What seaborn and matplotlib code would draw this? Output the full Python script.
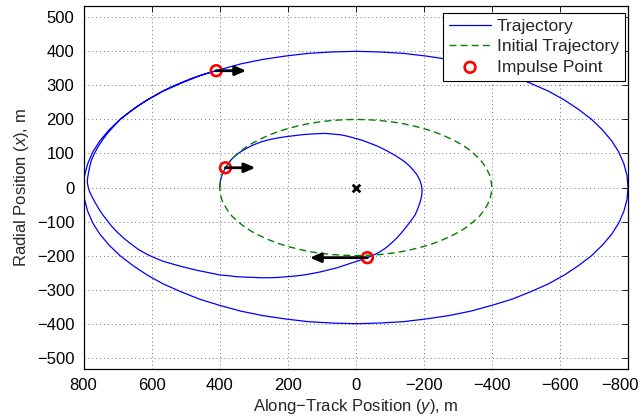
import matplotlib
matplotlib.use('Agg')
import matplotlib.pyplot as plt
from matplotlib.transforms import ScaledTranslation
import seaborn as sns
import pandas as pd

# initial trajectory: along-track (y) and radial (x) positions, m
init_y = [400, 398, 394, 386, 376, 363, 346, 328, 306, 283, 257, 229, 200, 169, 137, 104, 69, 35, 0,
          -35, -69, -104, -137, -169, -200, -229, -257, -283, -306, -328, -346, -363, -376, -386, -394, -398, -400,
          -398, -394, -386, -376, -363, -346, -328, -306, -283, -257, -229, -200, -169, -137, -104, -69, -35, 0,
          35, 69, 104, 137, 169, 200, 229, 257, 283, 306, 328, 346, 363, 376, 386, 394, 398, 400]
init_x = [0, 17, 35, 52, 68, 85, 100, 115, 129, 141, 153, 164, 173, 181, 188, 193, 197, 199, 200,
          199, 197, 193, 188, 181, 173, 164, 153, 141, 129, 115, 100, 85, 68, 52, 35, 17, 0,
          -17, -35, -52, -68, -85, -100, -115, -129, -141, -153, -164, -173, -181, -188, -193, -197, -199, -200,
          -199, -197, -193, -188, -181, -173, -164, -153, -141, -129, -115, -100, -85, -68, -52, -35, -17, 0]

# trajectory, piece by piece
coast_y = [400, 398, 394, 386, 383]
coast_x = [0, 17, 35, 52, 58]

loop1_y = [372, 360, 346, 330, 306, 281, 257, 232, 207, 183, 158, 134, 112, 90, 68,
           46, 26, 7, -18, -42, -67, -91, -116, -139, -156, -169, -180, -188, -193,
           -195, -193, -188, -182, -174, -162, -149, -135, -120, -104, -86, -69, -51, -34]
loop1_x = [75, 88, 100, 110, 123, 133, 140, 145, 149, 152, 155, 157, 158, 159, 157,
           155, 151, 146, 139, 130, 120, 108, 94, 79, 65, 51, 37, 22, 6,
           -10, -28, -46, -63, -81, -98, -115, -132, -149, -164, -179, -190, -199, -206]

arc2_y = [-14, 7, 31, 56, 80, 105, 130, 154, 178, 203, 228, 252, 277, 301, 326, 350,
          374, 398, 418, 443, 467, 491, 516, 541, 565, 590, 614, 640, 663, 684, 702,
          718, 731, 745, 756, 766, 775, 782, 786, 789, 788, 786, 782, 777, 768, 757,
          744, 729, 711, 692, 667, 640, 608, 573, 541, 508, 481, 455, 432, 410]
arc2_x = [-213, -220, -228, -236, -242, -248, -253, -257, -260, -262, -264, -265, -265, -264, -263, -262,
          -259, -257, -253, -248, -243, -237, -231, -224, -217, -207, -196, -181, -164, -147, -130,
          -113, -96, -78, -61, -44, -27, -13, 0, 15, 28, 40, 60, 80, 100, 120,
          140, 160, 180, 200, 220, 240, 260, 280, 296, 310, 321, 330, 337, 343]

loop3_y = [338, 274, 207, 139, 70, 0, -70, -139, -207, -274, -338, -400, -459, -514, -566,
           -613, -655, -693, -725, -752, -773, -788, -797, -800,
           -797, -788, -773, -752, -725, -693, -655, -613, -566, -514, -459, -400, -338,
           -274, -207, -139, -70, 0, 70, 139, 207, 274, 338, 400, 459, 514, 566, 613,
           655, 693, 725, 752, 773, 788, 797, 800,
           797, 788, 773, 752, 725, 693, 655, 613, 566, 514, 459, 410]
loop3_x = [363, 376, 386, 394, 398, 400, 398, 394, 386, 376, 363, 346, 328, 306, 283,
           257, 229, 200, 169, 137, 104, 69, 35, 0,
           -35, -69, -104, -137, -169, -200, -229, -257, -283, -306, -328, -346, -363,
           -376, -386, -394, -398, -400, -398, -394, -386, -376, -363, -346, -328, -306, -283, -257,
           -229, -200, -169, -137, -104, -69, -35, 0,
           35, 69, 104, 137, 169, 200, 229, 257, 283, 306, 328, 343]

# impulse points and along-track delta-v arrows
imp_y = [383, -34, 410]
imp_x = [58, -206, 343]
dv_y = [-88, 169, -88]

sns.set_style('white')
plt.rcParams['font.family'] = ['Liberation Sans', 'DejaVu Sans']
plt.rcParams['mathtext.fontset'] = 'custom'
plt.rcParams['mathtext.rm'] = 'Liberation Sans'
plt.rcParams['mathtext.it'] = 'Liberation Sans:italic'

fig = plt.figure(figsize=(6.44, 4.2), dpi=100)
ax = fig.add_axes([0.1297, 0.1214, 0.8455, 0.8643])

traj = pd.DataFrame({'y': coast_y + loop1_y + arc2_y + loop3_y,
                     'x': coast_x + loop1_x + arc2_x + loop3_x})
init = pd.DataFrame({'y': init_y, 'x': init_x})

sns.lineplot(data=traj, x='y', y='x', sort=False, estimator=None,
             color='#0000ff', lw=0.9, ax=ax, label='Trajectory',
             solid_joinstyle='round')
sns.lineplot(data=init, x='y', y='x', sort=False, estimator=None,
             color='#008000', lw=1.0, linestyle=(0, (5, 3)), ax=ax,
             label='Initial Trajectory')
sns.scatterplot(x=imp_y, y=imp_x, marker='o', s=60, facecolor='none',
                edgecolor='#ff0000', linewidth=1.9, ax=ax, zorder=4,
                label='Impulse Point')
sns.scatterplot(x=[0], y=[0], marker='x', s=30, color='k', linewidth=2,
                ax=ax, zorder=4)

for y0, x0, d in zip(imp_y, imp_x, dv_y):
    ax.annotate('', xy=(y0 + d, x0), xytext=(y0, x0),
                arrowprops=dict(arrowstyle='-|>,head_length=0.65,head_width=0.28',
                                color='k', lw=2, shrinkA=0, shrinkB=0,
                                mutation_scale=10), zorder=5)

ax.set_xlim(800, -800)
ax.set_ylim(-533, 533)
ax.set_xticks(range(800, -801, -200))
ax.set_yticks(range(-500, 501, 100))
ax.grid(True, linestyle=(0, (1, 3)), color='0.45', lw=0.7)
ax.tick_params(direction='in', top=True, right=True, length=4, width=0.6,
               labelsize=12, colors='k', pad=6.5)
for sp in ax.spines.values():
    sp.set_color('k')
    sp.set_linewidth(0.9)

# keep the -800 label inside the figure
last = ax.xaxis.get_major_ticks()[-1].label1
last.set_transform(last.get_transform() + ScaledTranslation(-6 / 72, 0, fig.dpi_scale_trans))

ax.set_xlabel('Along\u2212Track Position ($\\mathit{y}$), m', fontsize=12, labelpad=3)
ax.set_ylabel('Radial Position ($\\mathit{x}$), m', fontsize=12, labelpad=4)

leg = ax.legend(loc='upper right', bbox_to_anchor=(0.9945, 0.981), fontsize=12.5,
                frameon=True, fancybox=False, framealpha=1, edgecolor='k',
                handlelength=2.4, labelspacing=0.3, borderpad=0.35,
                handletextpad=0.35, borderaxespad=0)
leg.get_frame().set_linewidth(0.8)

fig.savefig('out.png', dpi=100)
